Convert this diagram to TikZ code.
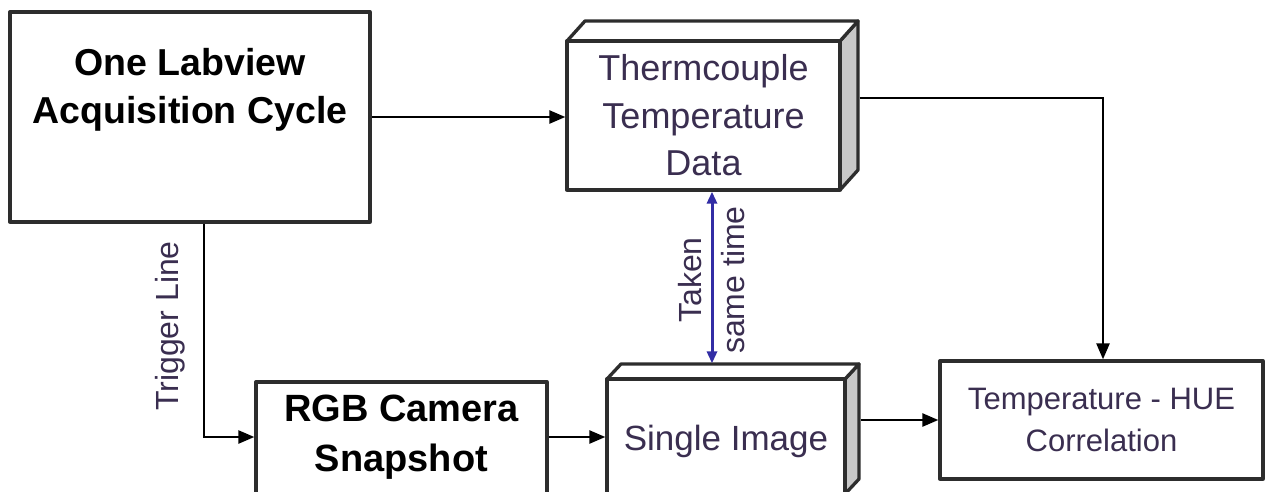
\documentclass[tikz,border=0pt]{standalone}
\usepackage{fontspec}
\setmainfont{Liberation Sans}
\usetikzlibrary{arrows.meta}
\definecolor{boxline}{RGB}{45,45,45}
\definecolor{txtgray}{RGB}{58,46,80}
\definecolor{sidegray}{RGB}{200,200,200}
\definecolor{blueline}{RGB}{50,45,165}
\tikzset{
  box/.style={draw=boxline, line width=3.3pt, fill=white, inner sep=0pt, line join=round},
  face/.style={draw=boxline, line width=3.3pt, line join=round},
  conn/.style={draw=black, line width=2.5pt, -{Triangle[length=16pt,width=13pt]}},
  boldtxt/.style={font=\fontsize{37.5}{48}\selectfont\bfseries, text=black, align=center},
  regtxt/.style={font=\fontsize{36}{47.5}\selectfont, text=txtgray, align=center},
}
\begin{document}
\begin{tikzpicture}[x=1pt,y=-1pt]
\useasboundingbox (0,0) rectangle (1267,491);
\clip (0,0) rectangle (1267,491);
\fill[white] (0,0) rectangle (1267,491);

% One Labview box
\node[box, minimum width=360pt, minimum height=210pt] (acq) at (190,117) {};
\node[boldtxt] (acqtext) at (190,90) {One Labview\\Acquisition Cycle};

% Thermocouple 3D box
\coordinate (tnw) at (567,41);
\coordinate (tne) at (840,41);
\coordinate (tse) at (840,190);
\fill[sidegray] (tne) -- ++(18,-20) -- ++(0,149) -- (tse) -- cycle;
\draw[face] (tne) -- ++(18,-20) -- ++(0,149) -- (tse);
\draw[face, fill=white] (tnw) -- ++(18,-20) -- ([shift={(18,-20)}]tne) -- (tne) -- cycle;
\node[box, regtxt, minimum width=273pt, minimum height=149pt] (thermo) at (703.5,115.5) {Thermcouple\\Temperature\\Data};

% Single Image 3D box (bottom runs past the picture's edge)
\coordinate (snw) at (607,379);
\coordinate (sne) at (845,379);
\coordinate (sse) at (845,494);
\fill[sidegray] (sne) -- ++(14,-15) -- ++(0,115) -- (sse) -- cycle;
\draw[face] (sne) -- ++(14,-15) -- ++(0,115) -- (sse);
\draw[face, fill=white] (snw) -- ++(14,-15) -- ([shift={(14,-15)}]sne) -- (sne) -- cycle;
\node[box, minimum width=238pt, minimum height=115pt] (single) at (726,436.5) {};
\node[regtxt, font=\fontsize{35}{44}\selectfont] (singletext) at (726,441) {Single Image};

% RGB Camera box (bottom runs past the picture's edge)
\node[box, minimum width=291pt, minimum height=112pt] (rgb) at (401.5,438) {};
\node[boldtxt, font=\fontsize{38}{50}\selectfont\bfseries] (rgbtext) at (401.5,437) {RGB Camera\\Snapshot};

% Temperature - HUE box
\node[box, regtxt, font=\fontsize{31}{42}\selectfont, minimum width=323pt, minimum height=118pt] (hue) at (1101.5,420) {Temperature - HUE\\Correlation};

% Labels
\node[rotate=90, font=\fontsize{32}{40}\selectfont, text=txtgray] (trig) at (170,326) {Trigger Line};
\node[rotate=90, font=\fontsize{32}{43}\selectfont, text=txtgray, align=center] (taken) at (712,280) {Taken\\same time};

% Connectors
\draw[conn] (acq.east) -- (acq.east -| thermo.west);
\draw[conn] ([xshift=14pt]acq.south) |- (rgbtext.west -| rgb.west);
\draw[conn] (rgbtext.east -| rgb.east) -- (rgbtext.east -| single.west);
\draw[conn] ([xshift=14pt]single.east |- hue.west) -- (hue.west);
\draw[conn] ([shift={(18,-17.5)}]thermo.east) -| ([xshift=1.5pt]hue.north);
\coordinate (stop) at ([yshift=14pt]single.north);
\draw[blueline, line width=3pt, {Triangle[length=12pt,width=10pt]}-{Triangle[length=12pt,width=10pt]}] (thermo.south -| taken) -- (stop -| taken);
\end{tikzpicture}
\end{document}
